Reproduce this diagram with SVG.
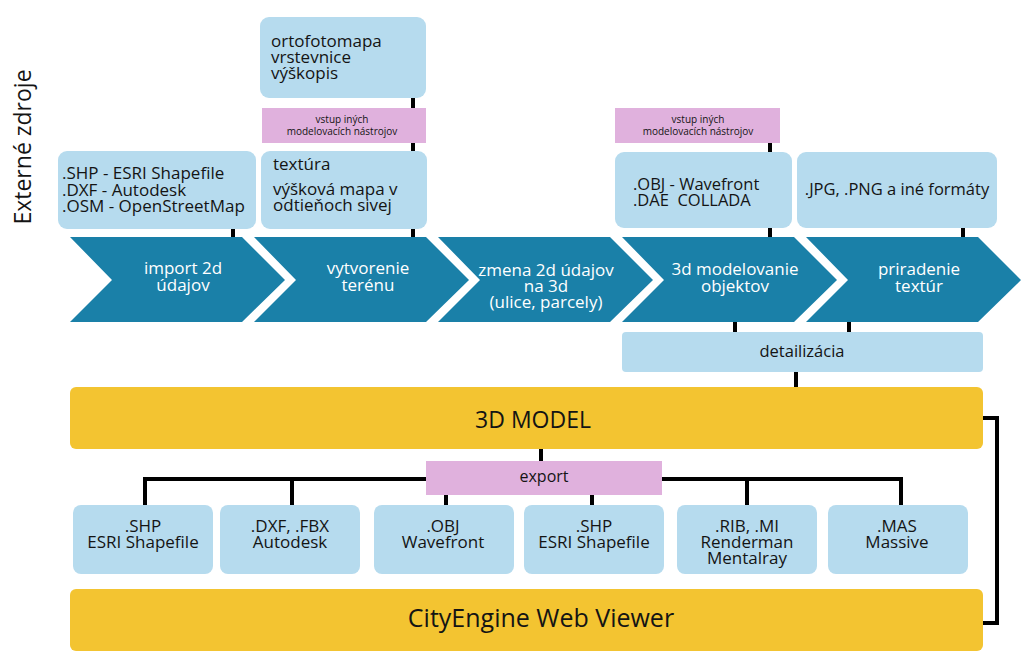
<svg xmlns="http://www.w3.org/2000/svg" width="1024" height="664" viewBox="0 0 1024 664">
<style>
.lb{fill:#b6dbee}
.pk{fill:#e0b1dd}
.gd{fill:#f3c431}
.ch{fill:#1a80a8}
text{font-family:"Open Sans","Liberation Sans",sans-serif;fill:#141414}
.tb{font-size:17px}
.pt{font-size:10px;text-anchor:middle}
.ct{font-size:17px;fill:#ffffff;text-anchor:middle}
.bt{font-size:17px;text-anchor:middle}
.mid{text-anchor:middle}
#connectors path{stroke:#000;stroke-width:4;fill:none;stroke-linejoin:miter}
</style>
<rect width="1024" height="664" fill="#ffffff"/>

<g id="connectors">
<path d="M233,228V238"/>
<path d="M413,97V109"/>
<path d="M413,142V152"/>
<path d="M413,228V238"/>
<path d="M770,142V153"/>
<path d="M770,227V238"/>
<path d="M963,227V238"/>
<path d="M735,321V333"/>
<path d="M849,321V333"/>
<path d="M796,371V388"/>
<path d="M982,418H997V623H982"/>
<path d="M541,448V462"/>
<path d="M145,506V479H901V506"/>
<path d="M292,479V506"/>
<path d="M747,479V506"/>
<path d="M446,494V506"/>
<path d="M592,494V506"/>
</g>

<g id="label-externe">
<text x="31" y="147" transform="rotate(-90 31 147)" class="mid" style="font-size:23px">Externé zdroje</text>
</g>

<g id="src-2d">
<rect class="lb" x="58" y="151" width="198" height="78" rx="9"/>
<text class="tb" x="62" y="179">.SHP - ESRI Shapefile</text>
<text class="tb" x="62" y="195.5">.DXF - Autodesk</text>
<text class="tb" x="62" y="212">.OSM - OpenStreetMap</text>
</g>

<g id="src-ortofoto">
<rect class="lb" x="260" y="17" width="166" height="81" rx="9"/>
<text class="tb" x="271" y="47">ortofotomapa</text>
<text class="tb" x="271" y="63">vrstevnice</text>
<text class="tb" x="271" y="79">výškopis</text>
</g>

<g id="vstup-1">
<rect class="pk" x="262" y="108" width="164" height="35"/>
<text class="pt" x="342" y="123">vstup iných</text>
<text class="pt" x="342" y="134.5">modelovacích nástrojov</text>
</g>

<g id="src-textura">
<rect class="lb" x="261" y="151" width="166" height="78" rx="9"/>
<text class="tb" x="273" y="170">textúra</text>
<text class="tb" x="273" y="195">výšková mapa v</text>
<text class="tb" x="273" y="211">odtieňoch sivej</text>
</g>

<g id="vstup-2">
<rect class="pk" x="615" y="108" width="165" height="35"/>
<text class="pt" x="698" y="123">vstup iných</text>
<text class="pt" x="698" y="134.5">modelovacích nástrojov</text>
</g>

<g id="src-obj">
<rect class="lb" x="615" y="152" width="177" height="76" rx="9"/>
<text class="tb" x="633" y="190" style="font-size:16.5px">.OBJ - Wavefront</text>
<text class="tb" x="633" y="206" style="font-size:16.5px" xml:space="preserve">.DAE  COLLADA</text>
</g>

<g id="src-jpg">
<rect class="lb" x="797" y="152" width="200" height="76" rx="9"/>
<text class="mid" x="897" y="195" style="font-size:16.5px">.JPG, .PNG a iné formáty</text>
</g>

<g id="step-1">
<polygon class="ch" points="70,237 242,237 285,280 242,322 70,322 112,280"/>
<text class="ct" x="183" y="274">import 2d</text>
<text class="ct" x="183" y="291">údajov</text>
</g>
<g id="step-2">
<polygon class="ch" points="254,237 426,237 469,280 426,322 254,322 296,280"/>
<text class="ct" x="368" y="274">vytvorenie</text>
<text class="ct" x="368" y="291">terénu</text>
</g>
<g id="step-3">
<polygon class="ch" points="438,237 610,237 653,280 610,322 438,322 480,280"/>
<text class="ct" x="546" y="276">zmena 2d údajov</text>
<text class="ct" x="546" y="292">na 3d</text>
<text class="ct" x="546" y="308">(ulice, parcely)</text>
</g>
<g id="step-4">
<polygon class="ch" points="622,237 794,237 837,280 794,322 622,322 664,280"/>
<text class="ct" x="735" y="275">3d modelovanie</text>
<text class="ct" x="735" y="292">objektov</text>
</g>
<g id="step-5">
<polygon class="ch" points="806,237 978,237 1021,280 978,322 806,322 848,280"/>
<text class="ct" x="919" y="275">priradenie</text>
<text class="ct" x="919" y="292">textúr</text>
</g>

<g id="detailizacia">
<rect class="lb" x="622" y="332" width="361" height="40" rx="4"/>
<text class="mid" x="802" y="357" style="font-size:16.5px">detailizácia</text>
</g>

<g id="model-3d">
<rect class="gd" x="70" y="387" width="913" height="62" rx="6"/>
<text class="mid" x="533" y="428" style="font-size:23px">3D MODEL</text>
</g>

<g id="export">
<rect class="pk" x="426" y="461" width="236" height="34"/>
<text class="mid" x="544" y="482" style="font-size:16px">export</text>
</g>

<g id="out-shp-1">
<rect class="lb" x="73" y="505" width="140" height="69" rx="8"/>
<text class="bt" x="143" y="532">.SHP</text>
<text class="bt" x="143" y="548">ESRI Shapefile</text>
</g>
<g id="out-dxf">
<rect class="lb" x="220" y="505" width="140" height="69" rx="8"/>
<text class="bt" x="290" y="532">.DXF, .FBX</text>
<text class="bt" x="290" y="548">Autodesk</text>
</g>
<g id="out-obj">
<rect class="lb" x="374" y="505" width="140" height="69" rx="8"/>
<text class="bt" x="443" y="532">.OBJ</text>
<text class="bt" x="443" y="548">Wavefront</text>
</g>
<g id="out-shp-2">
<rect class="lb" x="524" y="505" width="140" height="69" rx="8"/>
<text class="bt" x="594" y="532">.SHP</text>
<text class="bt" x="594" y="548">ESRI Shapefile</text>
</g>
<g id="out-rib">
<rect class="lb" x="677" y="505" width="140" height="69" rx="8"/>
<text class="bt" x="747" y="532">.RIB, .MI</text>
<text class="bt" x="747" y="548">Renderman</text>
<text class="bt" x="747" y="564">Mentalray</text>
</g>
<g id="out-mas">
<rect class="lb" x="828" y="505" width="140" height="69" rx="8"/>
<text class="bt" x="897" y="532">.MAS</text>
<text class="bt" x="897" y="548">Massive</text>
</g>

<g id="web-viewer">
<rect class="gd" x="70" y="589" width="913" height="62" rx="6"/>
<text class="mid" x="541" y="627" style="font-size:25px">CityEngine Web Viewer</text>
</g>
</svg>
